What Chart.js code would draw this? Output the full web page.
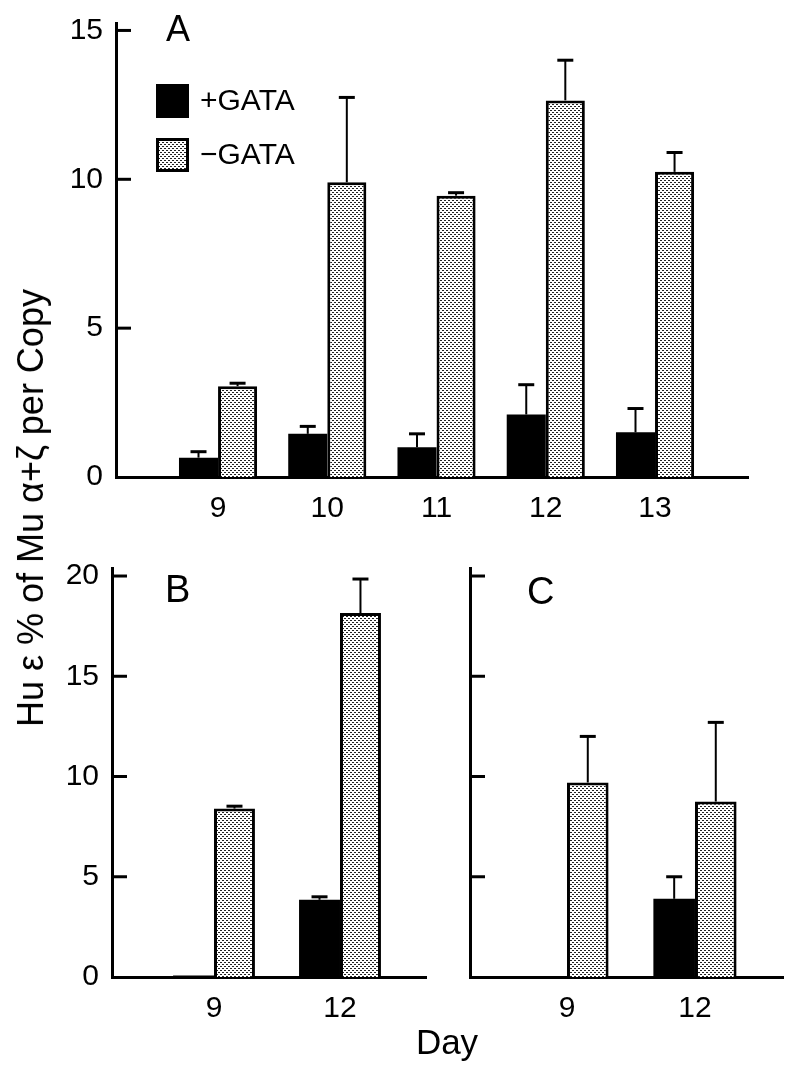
<!DOCTYPE html>
<html>
<head>
<meta charset="utf-8">
<script src="https://cdn.jsdelivr.net/npm/chart.js@4.4.1/dist/chart.umd.min.js"></script>
<style>
  body { margin: 0; background: #fff; }
  #page { position: relative; width: 793px; height: 1071px; overflow: hidden; background: #fff; }
  canvas { position: absolute; }
  .lbl { position: absolute; font-family: 'Liberation Sans Narrow', 'Arial Narrow', 'Liberation Sans', sans-serif; color: #000; white-space: nowrap; line-height: 1; }
  #ytitle { left: 31px; top: 508px; font-size: 36px; transform: translate(-50%, -50%) rotate(-90deg); }
  #xtitle { left: 447px; top: 1024px; font-size: 35px; transform: translateX(-50%); }
</style>
</head>
<body>
<div id="page">
  <canvas id="chartA" width="733" height="530" style="left:60px;top:0px"></canvas>
  <canvas id="chartB" width="400" height="507" style="left:40px;top:530px"></canvas>
  <canvas id="chartC" width="353" height="507" style="left:440px;top:530px"></canvas>
  <div id="ytitle" class="lbl">Hu ε % of Mu α+ζ per Copy</div>
  <div id="xtitle" class="lbl">Day</div>
</div>
<script>
// Panel A (days 9-13)
const daysA = [9, 10, 11, 12, 13]
const plusGataA = [0.65, 1.45, 1.0, 2.1, 1.5]
const plusGataErrA = [0.2, 0.25, 0.45, 1.0, 0.8]
const minusGataA = [3.05, 9.9, 9.45, 12.65, 10.25]
const minusGataErrA = [0.1, 2.85, 0.1, 1.35, 0.65]

// Panels B and C (days 9 and 12)
const daysBC = [9, 12]
const plusGataB = [0.08, 3.85]
const plusGataErrB = [0, 0.15]
const minusGataB = [8.4, 18.15]
const minusGataErrB = [0.12, 1.7]
const plusGataC = [0, 3.9]
const plusGataErrC = [0, 1.1]
const minusGataC = [9.7, 8.75]
const minusGataErrC = [2.3, 3.95]

const yTicksA = [0, 5, 10, 15]
const yTicksBC = [0, 5, 10, 15, 20]

const FONT = "'Liberation Sans Narrow', 'Arial Narrow', 'Liberation Sans', sans-serif"
Chart.defaults.font.family = FONT
Chart.defaults.color = "#000"

// stippled fill for the -GATA bars
function stipple(canvas) {
  const tile = document.createElement("canvas")
  tile.width = 4
  tile.height = 4
  const g = tile.getContext("2d")
  g.fillStyle = "#fff"
  g.fillRect(0, 0, 4, 4)
  g.fillStyle = "#222"
  g.fillRect(0, 0, 2, 1)
  g.fillRect(2, 2, 2, 1)
  return canvas.getContext("2d").createPattern(tile, "repeat")
}

// error bars (upper only)
const errorBars = {
  id: "errorBars",
  afterDatasetsDraw(chart) {
    const ctx = chart.ctx
    const yScale = chart.scales.y
    ctx.save()
    ctx.strokeStyle = "#000"
    chart.data.datasets.forEach((ds, di) => {
      chart.getDatasetMeta(di).data.forEach((bar, i) => {
        const err = ds.errors[i]
        if (!err) return
        const top = yScale.getPixelForValue(ds.data[i].y + err)
        ctx.lineWidth = 2
        ctx.beginPath()
        ctx.moveTo(bar.x, bar.y)
        ctx.lineTo(bar.x, top)
        ctx.stroke()
        ctx.lineWidth = 3
        ctx.beginPath()
        ctx.moveTo(bar.x - 8, top)
        ctx.lineTo(bar.x + 8, top)
        ctx.stroke()
      })
    })
    ctx.restore()
  },
}

// tick marks pointing into the plot
const innerTicks = {
  id: "innerTicks",
  afterDraw(chart) {
    const y = chart.scales.y
    const ctx = chart.ctx
    ctx.save()
    ctx.strokeStyle = "#000"
    ctx.lineWidth = 3
    y.ticks.forEach((t) => {
      if (t.value === 0) return
      const py = y.getPixelForValue(t.value)
      ctx.beginPath()
      ctx.moveTo(y.right, py)
      ctx.lineTo(y.right + 15, py)
      ctx.stroke()
    })
    ctx.restore()
  },
}

const panelLetter = {
  id: "panelLetter",
  afterDraw(chart, args, opts) {
    const ctx = chart.ctx
    ctx.save()
    ctx.font = `${opts.size}px ${FONT}`
    ctx.fillStyle = "#000"
    ctx.textBaseline = "alphabetic"
    ctx.fillText(opts.text, opts.x, opts.y)
    ctx.restore()
  },
}

const boxLegend = {
  id: "boxLegend",
  afterDraw(chart, args, opts) {
    const ctx = chart.ctx
    ctx.save()
    ctx.font = `30px ${FONT}`
    chart.data.datasets.forEach((ds, i) => {
      const top = opts.y + i * opts.rowGap
      ctx.fillStyle = ds.backgroundColor
      ctx.fillRect(opts.x, top, 33, 34)
      if (ds.borderWidth) {
        ctx.lineWidth = 3
        ctx.strokeStyle = "#000"
        ctx.strokeRect(opts.x + 1.5, top + 1.5, 30, 31)
      }
      ctx.fillStyle = "#000"
      ctx.textBaseline = "middle"
      ctx.fillText(ds.label, opts.x + 44, top + 18)
    })
    ctx.restore()
  },
}

function makePanel(id, cfg) {
  const el = document.getElementById(id)
  const fill = stipple(el)
  const plugins = [errorBars, innerTicks, panelLetter]
  if (cfg.legend) plugins.push(boxLegend)
  return new Chart(el, {
    type: "bar",
    data: {
      datasets: [
        {
          label: "+GATA",
          data: cfg.days.map((d, i) => ({ x: d, y: cfg.plus[i] })),
          errors: cfg.plusErr,
          backgroundColor: "#000",
          borderWidth: 0,
        },
        {
          label: "\u2212GATA",
          data: cfg.days.map((d, i) => ({ x: d, y: cfg.minus[i] })),
          errors: cfg.minusErr,
          backgroundColor: fill,
          borderColor: "#000",
          borderWidth: 3,
        },
      ],
    },
    plugins: plugins,
    options: {
      responsive: false,
      animation: false,
      events: [],
      layout: { padding: { top: cfg.padTop, right: cfg.padRight, left: 0, bottom: 0 } },
      datasets: { bar: { categoryPercentage: cfg.catPct, barPercentage: 1, grouped: true } },
      plugins: {
        legend: { display: false },
        tooltip: { enabled: false },
        panelLetter: cfg.letter,
        boxLegend: cfg.legend || {},
      },
      scales: {
        x: {
          type: "linear",
          min: cfg.xMin,
          max: cfg.xMax,
          offset: false,
          grid: { display: false },
          border: { display: true, color: "#000", width: 3 },
          afterBuildTicks: (s) => {
            s.ticks = cfg.days.map((v) => ({ value: v }))
          },
          afterFit: (s) => {
            s.height = cfg.xHeight
          },
          ticks: { font: { size: 30 }, padding: 6, color: "#000", autoSkip: false, maxRotation: 0 },
        },
        y: {
          min: 0,
          max: cfg.yMax,
          grid: { display: false },
          border: { display: true, color: "#000", width: 3 },
          afterBuildTicks: (s) => {
            s.ticks = cfg.yTicks.map((v) => ({ value: v }))
          },
          afterFit: (s) => {
            s.width = cfg.yWidth
          },
          ticks: { display: cfg.yLabels, font: { size: 30 }, padding: 5, color: "#000" },
        },
      },
    },
  })
}

makePanel("chartA", {
  days: daysA, plus: plusGataA, plusErr: plusGataErrA, minus: minusGataA, minusErr: minusGataErrA,
  xMin: 8.066, xMax: 13.851, yMax: 15.25, yTicks: yTicksA, yLabels: true,
  yWidth: 56, xHeight: 53, padTop: 22, padRight: 45, catPct: 0.715,
  letter: { text: "A", x: 106, y: 41, size: 36 },
  legend: { x: 96, y: 84, rowGap: 54 },
})

makePanel("chartB", {
  days: daysBC, plus: plusGataB, plusErr: plusGataErrB, minus: minusGataB, minusErr: minusGataErrB,
  xMin: 6.571, xMax: 14.048, yMax: 20.4, yTicks: yTicksBC, yLabels: true,
  yWidth: 72, xHeight: 60, padTop: 38, padRight: 14, catPct: 0.65,
  letter: { text: "B", x: 125, y: 72, size: 38 },
})

makePanel("chartC", {
  days: daysBC, plus: plusGataC, plusErr: plusGataErrC, minus: minusGataC, minusErr: minusGataErrC,
  xMin: 6.727, xMax: 14.063, yMax: 20.4, yTicks: yTicksBC, yLabels: false,
  yWidth: 30, xHeight: 60, padTop: 38, padRight: 10, catPct: 0.65,
  letter: { text: "C", x: 87, y: 74, size: 38 },
})
</script>
</body>
</html>
